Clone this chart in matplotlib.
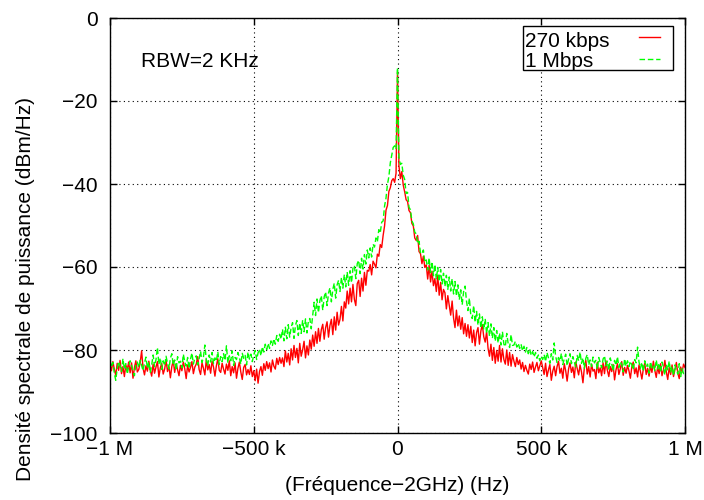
import numpy as np
import matplotlib
matplotlib.use("Agg")
import matplotlib.pyplot as plt
from matplotlib.patches import Rectangle
from matplotlib.lines import Line2D

# ── Data (dBm/Hz), 5 kHz steps from -1 MHz to +1 MHz ─────────────────────────
freq_khz = np.arange(-1000, 1001, 5)

psd_270k = [
    # -1000 .. -905
    -83.5, -85.0, -82.8, -84.6, -86.1, -83.2, -84.9, -82.5, -85.7, -84.0,
    -86.4, -83.6, -84.8, -82.9, -85.5, -83.1, -86.8, -84.2, -82.6, -85.3,
    # -900 .. -805
    -84.7, -83.0, -80.2, -84.4, -86.0, -83.8, -85.1, -82.7, -84.9, -86.3,
    -83.4, -85.6, -84.1, -82.8, -86.5, -84.3, -83.2, -85.8, -84.6, -82.4,
    # -800 .. -705
    -85.2, -83.9, -86.7, -84.0, -82.6, -85.4, -83.3, -84.8, -86.2, -83.7,
    -85.0, -82.9, -84.5, -86.9, -83.6, -85.3, -84.2, -82.8, -85.7, -84.1,
    # -700 .. -605
    -83.4, -81.6, -84.7, -85.9, -83.1, -84.4, -86.0, -82.3, -84.8, -83.5,
    -85.6, -82.7, -84.1, -86.3, -83.8, -82.1, -84.9, -85.4, -83.2, -84.6,
    # -600 .. -505
    -85.8, -83.4, -84.9, -82.6, -86.2, -84.0, -85.5, -83.1, -86.8, -84.4,
    -82.9, -85.3, -87.1, -84.2, -83.5, -86.0, -84.7, -85.9, -83.8, -86.4,
    # -500 .. -405
    -85.0, -87.4, -84.6, -88.0, -85.2, -84.0, -86.1, -83.3, -84.9, -82.8,
    -84.5, -83.1, -85.3, -82.4, -83.9, -84.6, -82.0, -83.5, -81.8, -83.2,
    # -400 .. -305
    -81.9, -84.0, -80.2, -82.9, -80.8, -83.6, -79.7, -82.4, -78.9, -81.8,
    -79.6, -83.1, -78.4, -81.5, -80.0, -77.9, -81.9, -79.0, -81.2, -77.6,
    # -300 .. -205
    -79.8, -76.4, -79.1, -75.6, -78.4, -74.8, -77.9, -75.1, -73.8, -77.4,
    -74.6, -73.2, -76.9, -74.1, -72.6, -76.3, -72.0, -75.2, -70.9, -74.0,
    # -200 .. -105
    -72.6, -69.5, -73.0, -68.4, -69.9, -65.8, -68.9, -65.1, -68.4, -64.2,
    -67.8, -69.3, -64.0, -63.2, -67.1, -62.7, -65.8, -61.3, -64.4, -60.8,
    # -100 .. -5
    -61.0, -59.4, -61.9, -58.6, -59.3, -60.2, -56.9, -57.4, -54.6, -55.3,
    -52.4, -50.1, -46.3, -45.2, -41.8, -40.9, -39.2, -38.7, -39.6, -37.4,
    # 0
    -13.0,
    # 5 .. 100
    -35.6, -38.7, -37.0, -40.3, -41.9, -43.8, -44.2, -46.4, -46.9, -49.5,
    -50.1, -53.0, -53.6, -52.4, -56.3, -56.8, -59.2, -57.4, -60.1, -59.5,
    # 105 .. 200
    -62.9, -59.6, -63.6, -61.0, -64.5, -62.8, -65.9, -62.0, -66.8, -63.7,
    -67.9, -65.4, -66.2, -70.1, -66.9, -69.3, -71.6, -68.2, -72.3, -74.6,
    # 205 .. 300
    -70.4, -74.2, -71.8, -75.0, -72.2, -76.1, -73.6, -76.7, -73.9, -77.1,
    -74.3, -78.2, -75.2, -79.0, -75.8, -74.6, -78.6, -75.4, -73.9, -76.8,
    # 305 .. 400
    -78.1, -75.6, -79.6, -81.5, -78.6, -82.5, -79.4, -83.2, -80.1, -82.7,
    -78.9, -82.9, -79.7, -82.3, -83.4, -80.0, -83.7, -80.6, -83.9, -81.1,
    # 405 .. 500
    -82.7, -84.0, -81.8, -83.5, -82.4, -84.6, -83.0, -85.2, -83.7, -84.9,
    -85.8, -83.4, -84.7, -82.9, -85.4, -84.1, -83.0, -85.0, -83.8, -82.6,
    # 505 .. 600
    -84.3, -85.9, -83.2, -86.4, -84.8, -83.5, -87.3, -85.1, -83.9, -86.2,
    -84.0, -82.7, -85.6, -84.4, -86.8, -83.3, -85.0, -87.5, -84.6, -83.1,
    # 605 .. 700
    -85.4, -84.1, -86.7, -82.9, -84.5, -86.0, -83.6, -85.3, -87.9, -84.2,
    -82.5, -85.8, -84.0, -86.5, -83.4, -85.1, -84.7, -86.9, -83.0, -85.5,
    # 705 .. 800
    -84.3, -86.2, -83.1, -85.7, -82.6, -84.9, -86.4, -84.0, -85.2, -83.5,
    -87.2, -84.8, -83.3, -85.9, -84.5, -82.8, -86.1, -84.2, -85.6, -83.7,
    # 805 .. 900
    -85.0, -86.8, -84.1, -82.9, -85.7, -84.3, -86.5, -83.6, -85.2, -87.0,
    -84.6, -83.2, -85.9, -84.4, -86.3, -83.8, -85.4, -82.7, -84.9, -86.6,
    # 905 .. 1000
    -84.0, -85.7, -83.3, -86.2, -84.8, -82.5, -85.3, -87.1, -84.2, -85.9,
    -83.6, -86.4, -84.7, -83.0, -85.6, -86.9, -84.1, -85.3, -83.4, -84.2,
]

psd_1m = [
    # -1000 .. -905
    -82.4, -84.1, -83.0, -85.6, -87.3, -84.5, -82.8, -83.9, -85.2, -82.1,
    -84.6, -83.3, -85.8, -84.0, -82.6, -83.7, -85.1, -86.2, -83.4, -82.9,
    # -900 .. -805
    -84.2, -82.5, -83.8, -85.0, -83.1, -81.7, -84.4, -82.9, -85.5, -83.6,
    -81.2, -84.0, -82.3, -79.4, -83.5, -81.9, -84.7, -82.6, -83.8, -81.5,
    # -800 .. -705
    -83.2, -84.6, -82.0, -80.9, -83.7, -82.4, -84.9, -81.6, -83.1, -82.7,
    -84.3, -81.0, -82.8, -83.9, -81.8, -84.5, -82.2, -80.7, -83.4, -82.0,
    # -700 .. -605
    -81.4, -83.6, -82.1, -80.3, -83.0, -81.7, -78.8, -82.4, -83.8, -81.2,
    -82.9, -80.6, -83.3, -81.9, -82.7, -80.4, -83.5, -81.6, -82.8, -80.9,
    # -600 .. -505
    -82.5, -79.0, -83.1, -81.4, -82.6, -80.2, -83.7, -81.8, -82.3, -80.6,
    -81.9, -83.4, -80.8, -82.0, -81.3, -83.6, -80.5, -82.2, -81.0, -82.8,
    # -500 .. -405
    -81.2, -80.1, -82.3, -80.7, -79.8, -81.4, -79.2, -80.5, -78.6, -79.9,
    -78.4, -79.6, -77.8, -78.9, -77.3, -78.6, -76.5, -77.9, -76.2, -77.4,
    # -400 .. -305
    -75.0, -77.8, -74.5, -77.3, -73.9, -76.9, -74.6, -73.4, -77.2, -74.1,
    -72.9, -76.5, -73.5, -76.0, -72.8, -75.6, -72.5, -75.9, -73.1, -72.4,
    # -300 .. -205
    -74.9, -71.6, -68.5, -71.7, -67.7, -71.0, -68.1, -66.9, -70.4, -67.2,
    -66.0, -69.3, -66.3, -65.0, -68.4, -65.4, -63.9, -67.5, -64.3, -63.2,
    # -200 .. -105
    -65.9, -62.5, -65.1, -61.8, -64.8, -61.2, -64.4, -60.9, -63.8, -60.3,
    -59.6, -62.8, -59.2, -58.4, -61.6, -57.9, -60.5, -57.0, -59.3, -55.9,
    # -100 .. -5
    -57.8, -55.4, -57.6, -54.5, -55.2, -53.0, -53.9, -51.0, -51.8, -49.2,
    -48.9, -45.3, -43.4, -40.1, -38.2, -34.9, -33.1, -31.2, -30.8, -31.6,
    # 0
    -12.0,
    # 5 .. 100
    -33.6, -35.3, -35.0, -37.9, -38.9, -42.3, -42.0, -45.6, -46.2, -48.9,
    -49.6, -51.6, -52.0, -54.4, -53.8, -56.7, -56.8, -55.9, -58.8, -58.3,
    # 105 .. 200
    -60.7, -57.8, -61.3, -58.7, -62.1, -59.4, -63.0, -60.1, -63.5, -60.6,
    -64.1, -61.5, -64.7, -62.0, -65.4, -62.4, -65.8, -62.8, -66.5, -63.5,
    # 205 .. 300
    -67.0, -64.3, -67.9, -65.5, -69.1, -65.9, -64.6, -68.2, -70.5, -67.5,
    -71.7, -72.4, -69.3, -73.3, -70.7, -74.0, -71.3, -74.7, -72.0, -75.1,
    # 305 .. 400
    -72.5, -76.0, -73.4, -76.7, -73.7, -77.2, -74.6, -77.9, -75.3, -78.3,
    -75.9, -78.8, -75.6, -78.6, -79.2, -76.0, -78.5, -79.4, -76.3, -78.9,
    # 405 .. 500
    -78.8, -77.9, -79.3, -78.4, -79.6, -78.7, -80.2, -79.1, -80.5, -79.4,
    -80.9, -79.8, -81.3, -80.4, -81.7, -80.6, -82.0, -81.2, -82.6, -81.5,
    # 505 .. 600
    -82.3, -81.1, -82.8, -80.6, -81.9, -83.2, -80.9, -82.4, -78.3, -81.5,
    -83.0, -81.8, -82.7, -80.8, -83.5, -82.1, -81.0, -83.8, -82.2, -80.9,
    # 605 .. 700
    -83.3, -81.6, -82.9, -84.1, -81.3, -82.6, -80.5, -83.2, -81.9, -84.4,
    -82.0, -81.1, -83.6, -82.4, -84.0, -81.7, -83.1, -82.5, -84.6, -81.8,
    # 705 .. 800
    -83.0, -84.3, -82.2, -81.4, -83.8, -82.7, -84.9, -81.9, -83.3, -85.1,
    -82.5, -83.7, -81.6, -84.2, -82.8, -83.5, -85.3, -82.1, -83.9, -82.6,
    # 805 .. 900
    -84.0, -82.7, -83.6, -84.8, -82.3, -83.1, -79.3, -82.9, -84.4, -83.0,
    -85.2, -82.6, -84.1, -83.4, -85.6, -82.8, -84.3, -83.7, -85.0, -82.4,
    # 905 .. 1000
    -84.6, -83.2, -85.4, -82.9, -84.1, -86.0, -83.5, -84.8, -82.7, -85.3,
    -84.0, -86.2, -83.6, -84.9, -85.8, -83.3, -86.4, -84.5, -85.7, -85.2,
]

series_labels = ["270 kbps", "1 Mbps"]
xtick_vals    = [-1000, -500, 0, 500, 1000]
xtick_labels  = ["\u22121 M", "\u2212500 k", "0", "500 k", "1 M"]
ytick_vals    = [0, -20, -40, -60, -80, -100]

# ── Style ─────────────────────────────────────────────────────────────────────
plt.rcParams['font.family'] = ['Liberation Sans', 'DejaVu Sans']
plt.rcParams['font.size']   = 15

fig = plt.figure(figsize=(7.04, 5.0), dpi=100)
ax  = fig.add_axes([110/704, 1 - 433/500, 575/704, 415/500])

ax.plot(freq_khz, psd_270k, color="#ff0000", lw=1.0)
ax.plot(freq_khz, psd_1m,   color="#00ff00", lw=1.0, dashes=(4, 2))

ax.set_xlim(-1000, 1000)
ax.set_ylim(-100, 0)
ax.set_xticks(xtick_vals)
ax.set_xticklabels(xtick_labels)
ax.set_yticks(ytick_vals)
ax.yaxis.set_major_formatter(matplotlib.ticker.FuncFormatter(
    lambda v, p: f"{int(v)}".replace("-", "\u2212")))

ax.tick_params(direction="in", length=5, width=1, top=True, right=True)
ax.tick_params(axis="x", pad=5)
ax.tick_params(axis="y", pad=9)
for s in ax.spines.values():
    s.set_linewidth(1.0)

ax.grid(True, color="black", linestyle=(0, (1, 3)), lw=0.8)
ax.set_axisbelow(True)

ax.set_xlabel("(Fréquence\u22122GHz) (Hz)", labelpad=12)
ax.set_ylabel("Densité spectrale de puissance (dBm/Hz)")
ax.yaxis.set_label_coords(-0.13, 0.347)

ax.text(0.0534, 0.8827, "RBW=2 KHz", transform=ax.transAxes,
        ha="left", va="baseline")

# ── Key box (gnuplot style: text left, sample right) ─────────────────────────
ax.add_patch(Rectangle((0.7188, 0.8747), 0.2602, 0.1067, transform=ax.transAxes,
                       facecolor="white", edgecolor="black", lw=1.0, zorder=5))
key_rows = [(0.9308, 0.9535, "#ff0000", None), (0.8827, 0.9012, "#00ff00", (4, 2))]
for label, (ty, ly, col, dash) in zip(series_labels, key_rows):
    ax.text(0.721, ty, label, transform=ax.transAxes, ha="left",
            va="baseline", zorder=6)
    ln = Line2D([0.92, 0.9565], [ly, ly], transform=ax.transAxes,
                color=col, lw=1.0, zorder=6)
    if dash:
        ln.set_dashes(dash)
    ax.add_line(ln)

fig.savefig("out.png", dpi=100)
